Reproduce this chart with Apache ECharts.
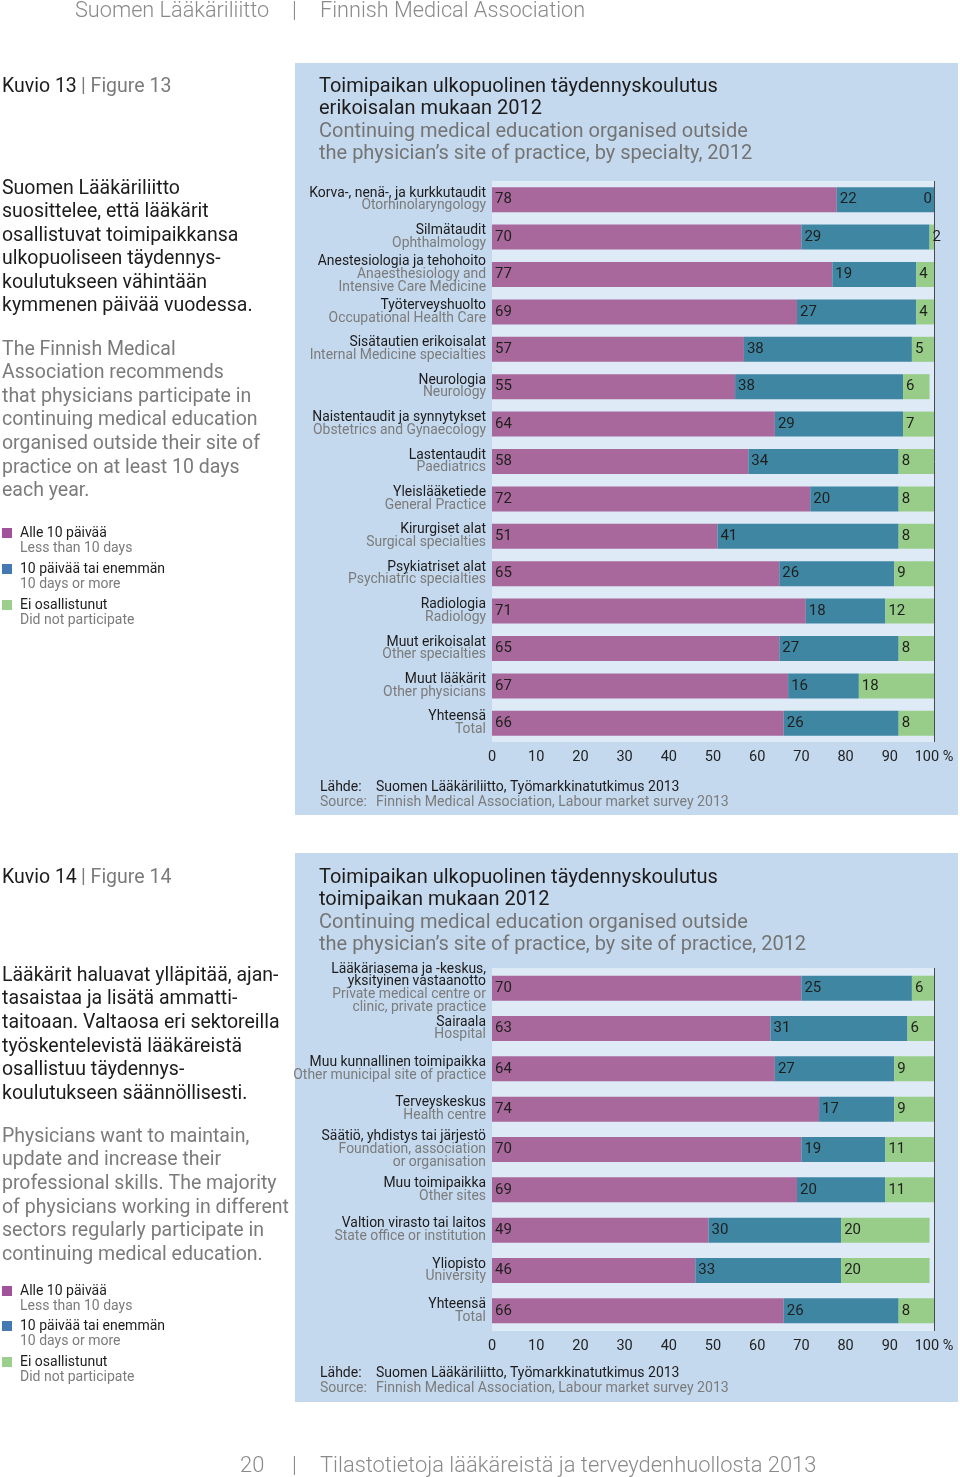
<!DOCTYPE html>
<html><head><meta charset="utf-8">
<script src="https://cdn.jsdelivr.net/npm/echarts@6/dist/echarts.min.js"></script>
<style>html,body{margin:0;padding:0;background:#fff}#c{width:960px;height:1477px}</style>
</head><body><div id="c"></div><script>
// ---------- data ----------
const seriesFi = ['Alle 10 päivää', '10 päivää tai enemmän', 'Ei osallistunut'];
const seriesEn = ['Less than 10 days', '10 days or more', 'Did not participate'];
const xTickMax = 100, xTickStep = 10;

const fig13Fi = ['Korva-, nenä-, ja kurkkutaudit', 'Silmätaudit', 'Anestesiologia ja tehohoito', 'Työterveyshuolto',
  'Sisätautien erikoisalat', 'Neurologia', 'Naistentaudit ja synnytykset', 'Lastentaudit', 'Yleislääketiede',
  'Kirurgiset alat', 'Psykiatriset alat', 'Radiologia', 'Muut erikoisalat', 'Muut lääkärit', 'Yhteensä'];
const fig13En = ['Otorhinolaryngology', 'Ophthalmology', 'Anaesthesiology and\nIntensive Care Medicine', 'Occupational Health Care',
  'Internal Medicine specialties', 'Neurology', 'Obstetrics and Gynaecology', 'Paediatrics', 'General Practice',
  'Surgical specialties', 'Psychiatric specialties', 'Radiology', 'Other specialties', 'Other physicians', 'Total'];
const fig13Less = [78, 70, 77, 69, 57, 55, 64, 58, 72, 51, 65, 71, 65, 67, 66];
const fig13More = [22, 29, 19, 27, 38, 38, 29, 34, 20, 41, 26, 18, 27, 16, 26];
const fig13None = [0, 2, 4, 4, 5, 6, 7, 8, 8, 8, 9, 12, 8, 18, 8];

const fig14Fi = ['Lääkäriasema ja -keskus,\nyksityinen vastaanotto', 'Sairaala', 'Muu kunnallinen toimipaikka', 'Terveyskeskus',
  'Säätiö, yhdistys tai järjestö', 'Muu toimipaikka', 'Valtion virasto tai laitos', 'Yliopisto', 'Yhteensä'];
const fig14En = ['Private medical centre or\nclinic, private practice', 'Hospital', 'Other municipal site of practice', 'Health centre',
  'Foundation, association\nor organisation', 'Other sites', 'State office or institution', 'University', 'Total'];
const fig14Less = [70, 63, 64, 74, 70, 69, 49, 46, 66];
const fig14More = [25, 31, 27, 17, 19, 20, 30, 33, 26];
const fig14None = [6, 6, 9, 9, 11, 11, 20, 20, 8];

// ---------- style ----------
const PINK = '#a8689b', BLUE = '#3f86a3', GREEN = '#97cd88';
const LEG = ['#a0529a', '#4479b3', '#9ccf8e'];
const BLACK = '#1d1b1c', GRAY = '#7b7b7b';
const FONT = 'Roboto, "Liberation Sans", Arial, sans-serif';
const PANEL = '#c5d9ee', PLOT = '#deeaf6';
const DY = 2;

function T(x, y, text, size, color, weight, align) {
  return { type: 'text', x: x, y: y + DY, silent: true, z: 5,
    style: { text: text, fill: color, font: (weight || 'normal') + ' ' + size + 'px ' + FONT,
      align: align || 'left', verticalAlign: 'middle', textAlign: align || 'left', textVerticalAlign: 'middle' } };
}
function R(x, y, w, h, color, z) {
  return { type: 'rect', shape: { x: x, y: y, width: w, height: h }, style: { fill: color }, silent: true, z: z };
}
function catLabel(fi, en) {
  return fi.split('\n').map(s => '{a|' + s + '}').join('\n') + '\n' + en.split('\n').map(s => '{b|' + s + '}').join('\n');
}

const els = [];
// page header / footer
els.push(T(75, 10, 'Suomen Lääkäriliitto', 21.7, '#8a8a8a', 300));
els.push(T(292, 10, '|', 21.7, '#8a8a8a', 300));
els.push(T(320, 10, 'Finnish Medical Association', 21.7, '#8a8a8a', 300));
els.push(T(240, 1465, '20', 21.9, '#8a8a8a', 300));
els.push(T(292, 1465, '|', 21.9, '#8a8a8a', 300));
els.push(T(320, 1465, 'Tilastotietoja lääkäreistä ja terveydenhuollosta 2013', 21.9, '#8a8a8a', 300));

// panels
els.push(R(295, 63, 663, 752, PANEL, -10));
els.push(R(295, 853, 663, 549, PANEL, -10));

function leftBlock(y0, num, fiLines, fiY, enLines, enY, legY) {
  els.push(T(2, y0, 'Kuvio ' + num, 19.5, BLACK));
  els.push(T(81, y0, '| Figure ' + num, 19.5, GRAY));
  fiLines.forEach((s, i) => els.push(T(2, fiY[i], s, 19.5, BLACK)));
  enLines.forEach((s, i) => els.push(T(2, enY[i], s, 19.5, GRAY)));
  legY.forEach((y, i) => {
    els.push(R(2, y - 5 + DY, 10, 10, LEG[i], 5));
    els.push(T(20, y, seriesFi[i], 14, BLACK));
    els.push(T(20, y + 15, seriesEn[i], 14, GRAY));
  });
}
leftBlock(85, 13,
  ['Suomen Lääkäriliitto', 'suosittelee, että lääkärit', 'osallistuvat toimipaikkansa', 'ulkopuoliseen täydennys-', 'koulutukseen vähintään', 'kymmenen päivää vuodessa.'],
  [187, 210, 234, 257, 281, 304],
  ['The Finnish Medical', 'Association recommends', 'that physicians participate in', 'continuing medical education', 'organised outside their site of', 'practice on at least 10 days', 'each year.'],
  [348, 371, 395, 418, 442, 466, 489],
  [531, 567, 603]);
leftBlock(876, 14,
  ['Lääkärit haluavat ylläpitää, ajan-', 'tasaistaa ja lisätä ammatti-', 'taitoaan. Valtaosa eri sektoreilla', 'työskentelevistä lääkäreistä', 'osallistuu täydennys-', 'koulutukseen säännöllisesti.'],
  [974, 997, 1021, 1045, 1068, 1092],
  ['Physicians want to maintain,', 'update and increase their', 'professional skills. The majority', 'of physicians working in different', 'sectors regularly participate in', 'continuing medical education.'],
  [1135, 1158, 1182, 1206, 1229, 1253],
  [1289, 1324, 1360]);

// chart titles
function chartTitle(lines, ys) {
  lines.forEach((s, i) => els.push(T(319, ys[i], s, 20, i < 2 ? BLACK : '#747474')));
}
chartTitle(['Toimipaikan ulkopuolinen täydennyskoulutus', 'erikoisalan mukaan 2012', 'Continuing medical education organised outside', 'the physician’s site of practice, by specialty, 2012'], [85, 107, 130, 152]);
chartTitle(['Toimipaikan ulkopuolinen täydennyskoulutus', 'toimipaikan mukaan 2012', 'Continuing medical education organised outside', 'the physician’s site of practice, by site of practice, 2012'], [876, 898, 921, 943]);

// source lines
function source(y) {
  els.push(T(320, y, 'Lähde:', 14, BLACK));
  els.push(T(376, y, 'Suomen Lääkäriliitto, Työmarkkinatutkimus 2013', 14, BLACK));
  els.push(T(320, y + 15, 'Source:', 14, GRAY));
  els.push(T(376, y + 15, 'Finnish Medical Association, Labour market survey 2013', 14.1, GRAY));
}
source(785); source(1371);

// ---------- axes & series ----------
const grids = [
  { left: 492, right: 26, top: 181, height: 561, show: true, backgroundColor: PLOT, borderWidth: 0, z: 1 },
  { left: 492, right: 26, top: 968, height: 363, show: true, backgroundColor: PLOT, borderWidth: 0, z: 1 }
];
function xAx(gi) {
  return { gridIndex: gi, type: 'value', min: 0, max: xTickMax, interval: xTickStep,
    axisLine: { show: false }, axisTick: { show: false },
    splitLine: { show: true, showMinLine: true, showMaxLine: true, lineStyle: { color: '#4a4a4a', width: 1 } },
    axisLabel: { margin: 8, fontSize: 14.5, color: '#222', fontFamily: FONT,
      formatter: v => v === 100 ? '100 %' : String(v) } };
}
function yAx(gi, fi, en) {
  return { gridIndex: gi, type: 'category', inverse: true, data: fi,
    axisLine: { show: false }, axisTick: { show: false }, splitLine: { show: false },
    axisLabel: { margin: 6, interval: 0, formatter: (v, i) => catLabel(fi[i], en[i]),
      rich: { a: { color: BLACK, fontSize: 13.9, lineHeight: 12.6, fontFamily: FONT, align: 'right' },
              b: { color: GRAY, fontSize: 13.9, lineHeight: 12.6, fontFamily: FONT, align: 'right' } } } };
}
function mk(arr) {
  return arr.map(v => v === 0 ? { value: 0, label: { position: 'insideRight', distance: 2 } } : v);
}
function bars(gi, arrs) {
  const cols = [PINK, BLUE, GREEN];
  return arrs.map((a, k) => ({
    type: 'bar', name: seriesFi[k], xAxisIndex: gi, yAxisIndex: gi, stack: 's' + gi,
    barWidth: 25, itemStyle: { color: cols[k] }, data: mk(a), z: 3,
    label: { show: true, position: 'insideLeft', distance: 3, color: '#1f1f1f', fontSize: 15, fontFamily: FONT,
      formatter: p => String(p.value) },
    emphasis: { disabled: true }, animation: false
  }));
}

const chart = echarts.init(document.getElementById('c'), null, { renderer: 'canvas' });
chart.setOption({
  animation: false,
  backgroundColor: '#ffffff',
  grid: grids,
  xAxis: [xAx(0), xAx(1)],
  yAxis: [yAx(0, fig13Fi, fig13En), yAx(1, fig14Fi, fig14En)],
  series: bars(0, [fig13Less, fig13More, fig13None]).concat(bars(1, [fig14Less, fig14More, fig14None])),
  graphic: { elements: els }
});
</script></body></html>
